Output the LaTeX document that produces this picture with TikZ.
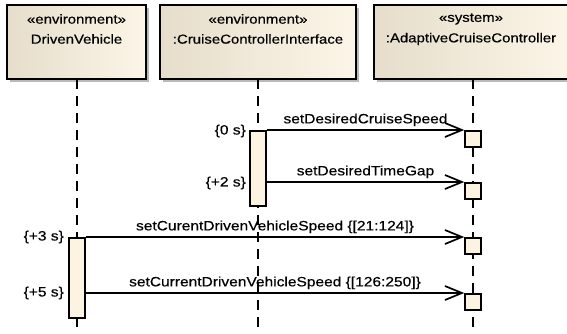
\documentclass[tikz,border=0pt]{standalone}
\usepackage{fontspec}
\setmainfont{Liberation Sans}[FakeStretch=1.15, FakeBold=0.4]
\usetikzlibrary{arrows.meta}
\definecolor{hdrL}{RGB}{230,221,203}
\definecolor{hdrR}{RGB}{252,246,232}
\definecolor{actfill}{RGB}{252,243,224}
\definecolor{shadowc}{RGB}{185,185,185}
\tikzset{
  hdrbox/.style={draw=black, line width=1.8pt, left color=hdrL, right color=hdrR, inner sep=0pt},
  hdrshadow/.style={fill=shadowc, draw=none},
  hdrtext/.style={font=\fontsize{13}{15}\selectfont, inner sep=0pt, text=black},
  lifeline/.style={draw=black, line width=2pt, line cap=butt, dash pattern=on 10pt off 7pt},
  actbox/.style={draw=black, line width=1.6pt, fill=actfill, inner sep=0pt},
  msg/.style={draw=black, line width=1.7pt, -{Straight Barb[length=17pt, width=14pt, line width=1.7pt]}},
  msglabel/.style={font=\fontsize{13.5}{15}\selectfont, inner sep=0pt, text=black},
  timelabel/.style={font=\fontsize{13.5}{15}\selectfont, inner sep=0pt, anchor=east, text=black}
}
\begin{document}
\begin{tikzpicture}[x=1pt,y=-1pt]
\useasboundingbox (0,0) rectangle (567,333);
\fill[white] (0,0) rectangle (567,333);
% header shadows
\fill[hdrshadow] (10,8) rectangle (149,82);
\fill[hdrshadow] (163,8) rectangle (359,82);
\fill[hdrshadow] (377,8) rectangle (580,82);
% header boxes
\path[hdrbox] (7,5) rectangle (146,79);
\path[hdrbox] (160,5) rectangle (356,79);
\path[hdrbox] (374,5) rectangle (572,79);
\node[draw=none, minimum width=140pt, minimum height=74pt, inner sep=0pt] (h1) at (77,42) {};
\node[draw=none, minimum width=196pt, minimum height=74pt, inner sep=0pt] (h2) at (258,42) {};
\node[draw=none, minimum width=198pt, minimum height=74pt, inner sep=0pt] (h3) at (473,42) {};
\node[hdrtext] (s1) at (76.5,19) {«environment»};
\node[hdrtext] (n1) at (76.5,39) {DrivenVehicle};
\node[hdrtext] (s2) at (258,19) {«environment»};
\node[hdrtext] (n2) at (258,39) {:CruiseControllerInterface};
\node[hdrtext] (s3) at (471,19) {«system»};
\node[hdrtext] (n3) at (471,39) {:AdaptiveCruiseController};
% lifelines
\coordinate (e1) at (77,333);
\coordinate (e2) at (258,333);
\coordinate (e3) at (473,333);
\draw[lifeline] (h1.south) -- (e1);
\draw[lifeline] (h2.south) -- (e2);
\draw[lifeline] (h3.south) -- (e3);
% activations
\node[actbox, minimum width=16pt, minimum height=75pt, anchor=north] (a2) at (258,130) {};
\node[actbox, minimum width=16pt, minimum height=80pt, anchor=north] (a1) at (77,237) {};
\node[actbox, minimum width=16pt, minimum height=16pt, anchor=north] (t1) at (473,130) {};
\node[actbox, minimum width=16pt, minimum height=16pt, anchor=north] (t2) at (473,182) {};
\node[actbox, minimum width=16pt, minimum height=16pt, anchor=north] (t3) at (473,237) {};
\node[actbox, minimum width=16pt, minimum height=16pt, anchor=north] (t4) at (473,293) {};
% messages
\draw[msg] (a2.north east) -- node[msglabel, above=3pt] {setDesiredCruiseSpeed} (t1.north west);
\draw[msg] (a2.east |- t2.north west) -- node[msglabel, above=3pt] {setDesiredTimeGap} (t2.north west);
\draw[msg] (a1.north east) -- node[msglabel, above=3pt] {setCurentDrivenVehicleSpeed \{[21:124]\}} (t3.north west);
\draw[msg] (a1.east |- t4.north west) -- node[msglabel, above=3pt] {setCurrentDrivenVehicleSpeed \{[126:250]\}} (t4.north west);
% time labels
\node[timelabel] (c1) at (246,131) {\{0 s\}};
\node[timelabel] (c2) at (246,183) {\{+2 s\}};
\node[timelabel] (c3) at (64,237) {\{+3 s\}};
\node[timelabel] (c4) at (64,293) {\{+5 s\}};
\end{tikzpicture}
\end{document}
